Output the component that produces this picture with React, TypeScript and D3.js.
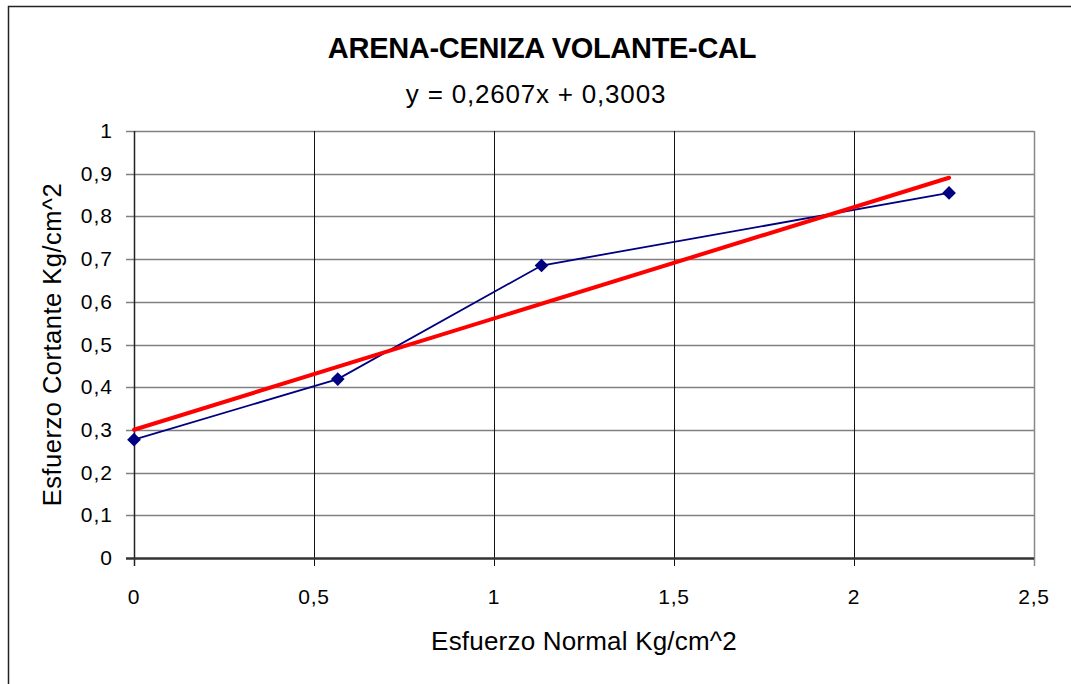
import { useEffect, useRef } from 'react';
import * as d3 from 'd3';

// measured data (esfuerzo normal vs cortante)
const normalStress = [0, 0.566, 1.132, 2.264];
const shearStress = [0.277, 0.419, 0.685, 0.855];
const xTicks = [0, 0.5, 1, 1.5, 2, 2.5];
const yTicks = [0, 0.1, 0.2, 0.3, 0.4, 0.5, 0.6, 0.7, 0.8, 0.9, 1];
const slope = 0.2607;
const intercept = 0.3003;

const W = 1071;
const H = 684;
const FONT = '"Liberation Sans", Arial, sans-serif';
const fmt = (v: number) => String(v).replace('.', ',');

export default function App() {
  const ref = useRef<SVGSVGElement | null>(null);

  useEffect(() => {
    if (!ref.current) return;
    const svg = d3.select(ref.current);
    svg.selectAll('*').remove();

    const plot = { left: 134, top: 131, right: 1034, bottom: 558 };
    const x = d3.scaleLinear().domain([0, 2.5]).range([plot.left, plot.right]);
    const y = d3.scaleLinear().domain([0, 1]).range([plot.bottom, plot.top]);

    // outer chart border
    svg.append('rect')
      .attr('x', 8.5).attr('y', 6.5)
      .attr('width', W).attr('height', H)
      .attr('fill', 'white').attr('stroke', '#222').attr('stroke-width', 1.5);

    // horizontal gridlines
    svg.append('g').selectAll('line')
      .data(yTicks.filter(d => d > 0))
      .enter().append('line')
      .attr('x1', plot.left - 8).attr('x2', plot.right)
      .attr('y1', d => Math.round(y(d)) + 0.5).attr('y2', d => Math.round(y(d)) + 0.5)
      .attr('stroke', '#808080').attr('stroke-width', 1.5);

    // vertical gridlines
    svg.append('g').selectAll('line')
      .data(xTicks.filter(d => d > 0 && d < 2.5))
      .enter().append('line')
      .attr('x1', d => Math.round(x(d)) + 0.5).attr('x2', d => Math.round(x(d)) + 0.5)
      .attr('y1', plot.top).attr('y2', plot.bottom + 8)
      .attr('stroke', '#111').attr('stroke-width', 1);

    // right plot border
    svg.append('line')
      .attr('x1', plot.right + 0.5).attr('x2', plot.right + 0.5)
      .attr('y1', plot.top).attr('y2', plot.bottom + 8)
      .attr('stroke', '#888').attr('stroke-width', 1.5);

    // axes
    svg.append('line')
      .attr('x1', plot.left + 0.5).attr('x2', plot.left + 0.5)
      .attr('y1', plot.top).attr('y2', plot.bottom + 8)
      .attr('stroke', '#222').attr('stroke-width', 1.5);
    svg.append('line')
      .attr('x1', plot.left - 8).attr('x2', plot.right)
      .attr('y1', plot.bottom + 0.5).attr('y2', plot.bottom + 0.5)
      .attr('stroke', '#333').attr('stroke-width', 2.5);

    // tick labels
    svg.append('g').selectAll('text')
      .data(yTicks)
      .enter().append('text')
      .attr('x', 113).attr('y', d => y(d) + 7)
      .attr('text-anchor', 'end')
      .style('font-family', FONT).style('font-size', '21px').style('letter-spacing', '1px')
      .text(d => fmt(d));

    svg.append('g').selectAll('text')
      .data(xTicks)
      .enter().append('text')
      .attr('x', d => x(d)).attr('y', 604)
      .attr('text-anchor', 'middle')
      .style('font-family', FONT).style('font-size', '21px').style('letter-spacing', '0.8px')
      .text(d => fmt(d));

    // data series
    const line = d3.line<number>()
      .x((_, i) => x(normalStress[i]))
      .y(d => y(d));
    svg.append('path')
      .attr('d', line(shearStress))
      .attr('fill', 'none').attr('stroke', '#000080').attr('stroke-width', 1.8);

    // trend line
    const xMin = d3.min(normalStress) as number;
    const xMax = d3.max(normalStress) as number;
    svg.append('line')
      .attr('x1', x(xMin)).attr('y1', y(slope * xMin + intercept))
      .attr('x2', x(xMax)).attr('y2', y(slope * xMax + intercept))
      .attr('stroke', '#ff0000').attr('stroke-width', 4).attr('stroke-linecap', 'round');

    const diamond = d3.symbol().type(d3.symbolDiamond2).size(120);
    svg.append('g').selectAll('path')
      .data(shearStress)
      .enter().append('path')
      .attr('d', diamond)
      .attr('transform', (d, i) => `translate(${x(normalStress[i])},${y(d)})`)
      .attr('fill', '#000080');

    // titles
    svg.append('text')
      .attr('x', 542).attr('y', 58)
      .attr('text-anchor', 'middle')
      .style('font-family', FONT).style('font-size', '29px').style('font-weight', 'bold')
      .style('letter-spacing', '-0.3px')
      .text('ARENA-CENIZA VOLANTE-CAL');
    svg.append('text')
      .attr('x', 536).attr('y', 103)
      .attr('text-anchor', 'middle')
      .style('font-family', FONT).style('font-size', '26px').style('letter-spacing', '0.8px')
      .text(`y = ${fmt(slope)}x + ${fmt(intercept)}`);
    svg.append('text')
      .attr('x', 584).attr('y', 650)
      .attr('text-anchor', 'middle')
      .style('font-family', FONT).style('font-size', '26px').style('letter-spacing', '0.2px')
      .text('Esfuerzo Normal Kg/cm^2');
    svg.append('text')
      .attr('transform', `translate(61,${(plot.top + plot.bottom) / 2}) rotate(-90)`)
      .attr('text-anchor', 'middle')
      .style('font-family', FONT).style('font-size', '25.5px').style('letter-spacing', '0.5px')
      .text('Esfuerzo Cortante Kg/cm^2');
  }, []);

  return (
    <svg
      ref={ref}
      width={W}
      height={H}
      style={{ position: 'absolute', left: 0, top: 0, background: 'white' }}
    />
  );
}
